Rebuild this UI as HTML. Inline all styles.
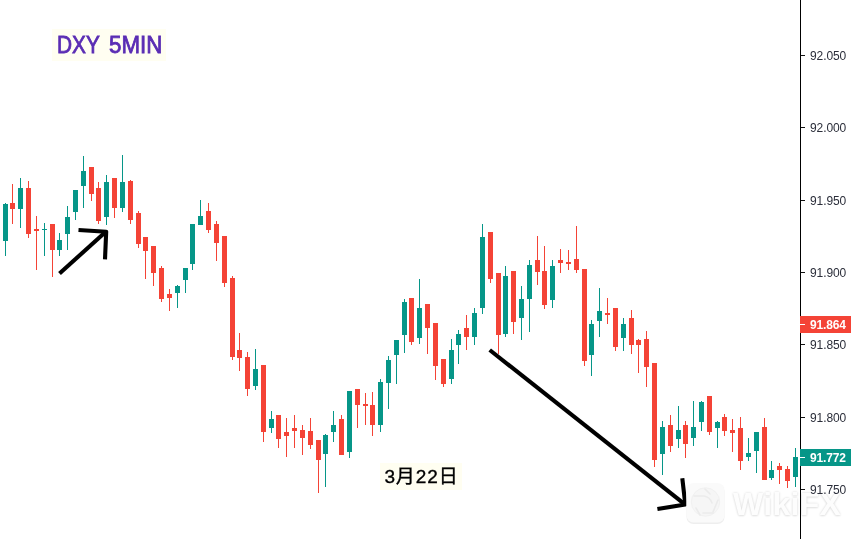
<!DOCTYPE html>
<html><head><meta charset="utf-8">
<title>DXY 5MIN</title>
<style>
html,body{margin:0;padding:0;background:#fff;}
body{width:851px;height:539px;position:relative;overflow:hidden;font-family:"Liberation Sans","Noto Sans CJK SC",sans-serif;}
svg{position:absolute;left:0;top:0;}
.title{position:absolute;left:52px;top:29px;width:114px;height:32px;background:#fffef1;color:#5a2db4;font-weight:normal;font-size:23px;line-height:32px;white-space:nowrap;-webkit-text-stroke:0.8px #5a2db4;}
.title span{position:absolute;top:0;display:block;transform-origin:0 50%;}
.title .a{left:5px;transform:scaleX(0.905);}
.title .b{left:56.9px;transform:scaleX(0.97);}
.date{position:absolute;left:380px;top:463px;width:82px;height:27px;background:#fffef1;color:#000;font-size:19px;line-height:27px;text-align:center;white-space:nowrap;letter-spacing:0.9px;-webkit-text-stroke:0.35px #000;text-indent:1px;}
.tk{position:absolute;left:810px;width:41px;height:16px;line-height:16px;font-size:12px;color:#2b2e3a;white-space:nowrap;letter-spacing:-0.1px;}
.pl{position:absolute;left:800px;width:51px;height:17px;line-height:17px;font-size:12px;font-weight:bold;color:#fff;white-space:nowrap;letter-spacing:-0.15px;}
.pl span{position:absolute;left:10px;top:0.5px;}
.pl i{position:absolute;left:0;top:8px;width:5px;height:1px;background:#fff;}
.axis{position:absolute;left:800px;top:0;width:1.25px;height:539px;background:#000;}
.wm{position:absolute;left:733px;top:486px;font-size:32px;font-weight:bold;color:#fdfdfd;letter-spacing:0.3px;text-shadow:0 0 2.5px #dadada,0 1px 2px #e8e8e8;white-space:nowrap;line-height:36px;}
</style></head><body>
<svg width="851" height="539" viewBox="0 0 851 539">
<g shape-rendering="crispEdges">
<rect x="5" y="203" width="1" height="53" fill="#069688"/>
<rect x="3" y="204" width="5" height="37" fill="#069688"/>
<rect x="12" y="184" width="1" height="40" fill="#f44336"/>
<rect x="10" y="203" width="5" height="6" fill="#f44336"/>
<rect x="20" y="178" width="1" height="50" fill="#069688"/>
<rect x="18" y="188" width="5" height="21" fill="#069688"/>
<rect x="28" y="181" width="1" height="57" fill="#f44336"/>
<rect x="26" y="188" width="5" height="46" fill="#f44336"/>
<rect x="36" y="216" width="1" height="54" fill="#f44336"/>
<rect x="34" y="229" width="5" height="2" fill="#f44336"/>
<rect x="44" y="223" width="1" height="33" fill="#069688"/>
<rect x="42" y="229" width="5" height="1" fill="#069688"/>
<rect x="52" y="224" width="1" height="53" fill="#f44336"/>
<rect x="50" y="224" width="5" height="26" fill="#f44336"/>
<rect x="59" y="233" width="1" height="23" fill="#069688"/>
<rect x="57" y="240" width="5" height="10" fill="#069688"/>
<rect x="67" y="206" width="1" height="44" fill="#069688"/>
<rect x="65" y="217" width="5" height="17" fill="#069688"/>
<rect x="75" y="190" width="1" height="30" fill="#069688"/>
<rect x="73" y="190" width="5" height="22" fill="#069688"/>
<rect x="83" y="156" width="1" height="52" fill="#069688"/>
<rect x="81" y="171" width="5" height="15" fill="#069688"/>
<rect x="91" y="167" width="1" height="34" fill="#f44336"/>
<rect x="89" y="167" width="5" height="27" fill="#f44336"/>
<rect x="98" y="182" width="1" height="42" fill="#f44336"/>
<rect x="96" y="188" width="5" height="33" fill="#f44336"/>
<rect x="106" y="175" width="1" height="50" fill="#069688"/>
<rect x="104" y="182" width="5" height="35" fill="#069688"/>
<rect x="114" y="178" width="1" height="40" fill="#f44336"/>
<rect x="112" y="178" width="5" height="30" fill="#f44336"/>
<rect x="122" y="155" width="1" height="57" fill="#069688"/>
<rect x="120" y="182" width="5" height="26" fill="#069688"/>
<rect x="130" y="180" width="1" height="44" fill="#f44336"/>
<rect x="128" y="181" width="5" height="39" fill="#f44336"/>
<rect x="138" y="211" width="1" height="37" fill="#f44336"/>
<rect x="136" y="213" width="5" height="31" fill="#f44336"/>
<rect x="145" y="237" width="1" height="42" fill="#f44336"/>
<rect x="143" y="237" width="5" height="14" fill="#f44336"/>
<rect x="153" y="246" width="1" height="40" fill="#f44336"/>
<rect x="151" y="246" width="5" height="27" fill="#f44336"/>
<rect x="161" y="266" width="1" height="36" fill="#f44336"/>
<rect x="159" y="268" width="5" height="31" fill="#f44336"/>
<rect x="169" y="289" width="1" height="22" fill="#f44336"/>
<rect x="167" y="294" width="5" height="4" fill="#f44336"/>
<rect x="177" y="285" width="1" height="23" fill="#069688"/>
<rect x="175" y="286" width="5" height="7" fill="#069688"/>
<rect x="185" y="268" width="1" height="25" fill="#069688"/>
<rect x="183" y="268" width="5" height="12" fill="#069688"/>
<rect x="192" y="224" width="1" height="46" fill="#069688"/>
<rect x="190" y="224" width="5" height="40" fill="#069688"/>
<rect x="200" y="200" width="1" height="25" fill="#069688"/>
<rect x="198" y="216" width="5" height="9" fill="#069688"/>
<rect x="208" y="203" width="1" height="30" fill="#f44336"/>
<rect x="206" y="211" width="5" height="19" fill="#f44336"/>
<rect x="216" y="221" width="1" height="40" fill="#f44336"/>
<rect x="214" y="224" width="5" height="19" fill="#f44336"/>
<rect x="224" y="236" width="1" height="51" fill="#f44336"/>
<rect x="222" y="236" width="5" height="47" fill="#f44336"/>
<rect x="232" y="276" width="1" height="84" fill="#f44336"/>
<rect x="230" y="278" width="5" height="79" fill="#f44336"/>
<rect x="239" y="333" width="1" height="38" fill="#f44336"/>
<rect x="237" y="350" width="5" height="8" fill="#f44336"/>
<rect x="247" y="352" width="1" height="44" fill="#f44336"/>
<rect x="245" y="357" width="5" height="32" fill="#f44336"/>
<rect x="255" y="349" width="1" height="41" fill="#069688"/>
<rect x="253" y="369" width="5" height="17" fill="#069688"/>
<rect x="263" y="365" width="1" height="77" fill="#f44336"/>
<rect x="261" y="365" width="5" height="67" fill="#f44336"/>
<rect x="271" y="411" width="1" height="22" fill="#069688"/>
<rect x="269" y="419" width="5" height="9" fill="#069688"/>
<rect x="278" y="415" width="1" height="33" fill="#f44336"/>
<rect x="276" y="415" width="5" height="24" fill="#f44336"/>
<rect x="286" y="418" width="1" height="39" fill="#f44336"/>
<rect x="284" y="432" width="5" height="4" fill="#f44336"/>
<rect x="294" y="415" width="1" height="33" fill="#f44336"/>
<rect x="292" y="428" width="5" height="3" fill="#f44336"/>
<rect x="302" y="425" width="1" height="30" fill="#f44336"/>
<rect x="300" y="430" width="5" height="8" fill="#f44336"/>
<rect x="310" y="418" width="1" height="31" fill="#f44336"/>
<rect x="308" y="431" width="5" height="14" fill="#f44336"/>
<rect x="318" y="440" width="1" height="53" fill="#f44336"/>
<rect x="316" y="440" width="5" height="20" fill="#f44336"/>
<rect x="325" y="434" width="1" height="53" fill="#069688"/>
<rect x="323" y="435" width="5" height="19" fill="#069688"/>
<rect x="333" y="411" width="1" height="31" fill="#069688"/>
<rect x="331" y="425" width="5" height="7" fill="#069688"/>
<rect x="341" y="415" width="1" height="40" fill="#f44336"/>
<rect x="339" y="419" width="5" height="36" fill="#f44336"/>
<rect x="349" y="391" width="1" height="67" fill="#069688"/>
<rect x="347" y="391" width="5" height="61" fill="#069688"/>
<rect x="357" y="389" width="1" height="39" fill="#f44336"/>
<rect x="355" y="389" width="5" height="16" fill="#f44336"/>
<rect x="365" y="393" width="1" height="32" fill="#f44336"/>
<rect x="363" y="404" width="5" height="2" fill="#f44336"/>
<rect x="372" y="392" width="1" height="44" fill="#f44336"/>
<rect x="370" y="405" width="5" height="20" fill="#f44336"/>
<rect x="380" y="379" width="1" height="53" fill="#069688"/>
<rect x="378" y="382" width="5" height="43" fill="#069688"/>
<rect x="388" y="356" width="1" height="53" fill="#069688"/>
<rect x="386" y="360" width="5" height="23" fill="#069688"/>
<rect x="396" y="340" width="1" height="44" fill="#069688"/>
<rect x="394" y="340" width="5" height="15" fill="#069688"/>
<rect x="404" y="299" width="1" height="54" fill="#069688"/>
<rect x="402" y="302" width="5" height="33" fill="#069688"/>
<rect x="411" y="298" width="1" height="47" fill="#f44336"/>
<rect x="409" y="298" width="5" height="44" fill="#f44336"/>
<rect x="419" y="279" width="1" height="65" fill="#069688"/>
<rect x="417" y="308" width="5" height="30" fill="#069688"/>
<rect x="427" y="304" width="1" height="50" fill="#f44336"/>
<rect x="425" y="304" width="5" height="24" fill="#f44336"/>
<rect x="435" y="323" width="1" height="57" fill="#f44336"/>
<rect x="433" y="323" width="5" height="43" fill="#f44336"/>
<rect x="443" y="359" width="1" height="28" fill="#f44336"/>
<rect x="441" y="359" width="5" height="25" fill="#f44336"/>
<rect x="451" y="339" width="1" height="45" fill="#069688"/>
<rect x="449" y="350" width="5" height="29" fill="#069688"/>
<rect x="458" y="330" width="1" height="34" fill="#069688"/>
<rect x="456" y="334" width="5" height="11" fill="#069688"/>
<rect x="466" y="315" width="1" height="35" fill="#f44336"/>
<rect x="464" y="328" width="5" height="9" fill="#f44336"/>
<rect x="474" y="308" width="1" height="37" fill="#069688"/>
<rect x="472" y="313" width="5" height="24" fill="#069688"/>
<rect x="482" y="224" width="1" height="90" fill="#069688"/>
<rect x="480" y="237" width="5" height="71" fill="#069688"/>
<rect x="490" y="232" width="1" height="51" fill="#f44336"/>
<rect x="488" y="232" width="5" height="47" fill="#f44336"/>
<rect x="498" y="273" width="1" height="81" fill="#f44336"/>
<rect x="496" y="273" width="5" height="62" fill="#f44336"/>
<rect x="505" y="266" width="1" height="71" fill="#069688"/>
<rect x="503" y="276" width="5" height="58" fill="#069688"/>
<rect x="513" y="271" width="1" height="63" fill="#f44336"/>
<rect x="511" y="271" width="5" height="51" fill="#f44336"/>
<rect x="521" y="286" width="1" height="54" fill="#069688"/>
<rect x="519" y="299" width="5" height="19" fill="#069688"/>
<rect x="529" y="260" width="1" height="72" fill="#069688"/>
<rect x="527" y="265" width="5" height="34" fill="#069688"/>
<rect x="537" y="236" width="1" height="49" fill="#f44336"/>
<rect x="535" y="260" width="5" height="12" fill="#f44336"/>
<rect x="544" y="246" width="1" height="63" fill="#f44336"/>
<rect x="542" y="271" width="5" height="34" fill="#f44336"/>
<rect x="552" y="260" width="1" height="48" fill="#069688"/>
<rect x="550" y="266" width="5" height="34" fill="#069688"/>
<rect x="560" y="249" width="1" height="24" fill="#f44336"/>
<rect x="558" y="260" width="5" height="3" fill="#f44336"/>
<rect x="568" y="250" width="1" height="20" fill="#f44336"/>
<rect x="566" y="262" width="5" height="2" fill="#f44336"/>
<rect x="576" y="226" width="1" height="47" fill="#f44336"/>
<rect x="574" y="259" width="5" height="11" fill="#f44336"/>
<rect x="584" y="269" width="1" height="97" fill="#f44336"/>
<rect x="582" y="269" width="5" height="92" fill="#f44336"/>
<rect x="591" y="320" width="1" height="56" fill="#069688"/>
<rect x="589" y="324" width="5" height="31" fill="#069688"/>
<rect x="599" y="288" width="1" height="49" fill="#069688"/>
<rect x="597" y="311" width="5" height="10" fill="#069688"/>
<rect x="607" y="298" width="1" height="26" fill="#f44336"/>
<rect x="605" y="313" width="5" height="2" fill="#f44336"/>
<rect x="615" y="308" width="1" height="43" fill="#f44336"/>
<rect x="613" y="308" width="5" height="39" fill="#f44336"/>
<rect x="623" y="318" width="1" height="33" fill="#069688"/>
<rect x="621" y="324" width="5" height="14" fill="#069688"/>
<rect x="631" y="310" width="1" height="44" fill="#f44336"/>
<rect x="629" y="318" width="5" height="27" fill="#f44336"/>
<rect x="638" y="339" width="1" height="34" fill="#f44336"/>
<rect x="636" y="340" width="5" height="5" fill="#f44336"/>
<rect x="646" y="331" width="1" height="56" fill="#f44336"/>
<rect x="644" y="339" width="5" height="28" fill="#f44336"/>
<rect x="654" y="363" width="1" height="104" fill="#f44336"/>
<rect x="652" y="363" width="5" height="97" fill="#f44336"/>
<rect x="662" y="421" width="1" height="54" fill="#069688"/>
<rect x="660" y="427" width="5" height="27" fill="#069688"/>
<rect x="670" y="415" width="1" height="37" fill="#f44336"/>
<rect x="668" y="425" width="5" height="21" fill="#f44336"/>
<rect x="678" y="406" width="1" height="42" fill="#069688"/>
<rect x="676" y="430" width="5" height="9" fill="#069688"/>
<rect x="685" y="421" width="1" height="37" fill="#f44336"/>
<rect x="683" y="425" width="5" height="19" fill="#f44336"/>
<rect x="693" y="401" width="1" height="45" fill="#069688"/>
<rect x="691" y="427" width="5" height="11" fill="#069688"/>
<rect x="701" y="401" width="1" height="30" fill="#069688"/>
<rect x="699" y="402" width="5" height="20" fill="#069688"/>
<rect x="709" y="396" width="1" height="39" fill="#f44336"/>
<rect x="707" y="396" width="5" height="36" fill="#f44336"/>
<rect x="717" y="421" width="1" height="27" fill="#069688"/>
<rect x="715" y="422" width="5" height="6" fill="#069688"/>
<rect x="724" y="414" width="1" height="22" fill="#f44336"/>
<rect x="722" y="417" width="5" height="14" fill="#f44336"/>
<rect x="732" y="419" width="1" height="33" fill="#f44336"/>
<rect x="730" y="430" width="5" height="3" fill="#f44336"/>
<rect x="740" y="417" width="1" height="53" fill="#f44336"/>
<rect x="738" y="428" width="5" height="33" fill="#f44336"/>
<rect x="748" y="438" width="1" height="23" fill="#069688"/>
<rect x="746" y="453" width="5" height="4" fill="#069688"/>
<rect x="756" y="432" width="1" height="41" fill="#069688"/>
<rect x="754" y="432" width="5" height="19" fill="#069688"/>
<rect x="764" y="418" width="1" height="62" fill="#f44336"/>
<rect x="762" y="427" width="5" height="53" fill="#f44336"/>
<rect x="771" y="461" width="1" height="19" fill="#069688"/>
<rect x="769" y="470" width="5" height="8" fill="#069688"/>
<rect x="779" y="463" width="1" height="21" fill="#f44336"/>
<rect x="777" y="466" width="5" height="4" fill="#f44336"/>
<rect x="787" y="466" width="1" height="22" fill="#f44336"/>
<rect x="785" y="469" width="5" height="12" fill="#f44336"/>
<rect x="795" y="448" width="1" height="39" fill="#069688"/>
<rect x="793" y="457" width="5" height="20" fill="#069688"/>
<rect x="801" y="55" width="4" height="1" fill="#111"/>
<rect x="801" y="127" width="4" height="1" fill="#111"/>
<rect x="801" y="200" width="4" height="1" fill="#111"/>
<rect x="801" y="272" width="4" height="1" fill="#111"/>
<rect x="801" y="344" width="4" height="1" fill="#111"/>
<rect x="801" y="417" width="4" height="1" fill="#111"/>
<rect x="801" y="489" width="4" height="1" fill="#111"/>

</g>

<g fill="none" stroke="#000" stroke-width="4.1" stroke-linecap="butt" stroke-linejoin="round">
<path d="M59.5 273.5 L105.5 232"/>
<path d="M78.5 230 L106.2 231.7 L105 259.3"/>
<path d="M489.7 350 L684.6 504.2"/>
<path d="M682.3 478.3 L685.3 504.6 L657.4 509"/>
</g>
<rect x="686.5" y="484" width="38" height="40" rx="7" fill="#eeeeee"/>
<rect x="686.5" y="483" width="38" height="39.5" rx="7" fill="#fafafa"/>
<circle cx="705.5" cy="502" r="14.2" fill="#f6f6f6" stroke="#f1f1f1" stroke-width="1"/>
<g fill="none" stroke="#ebebeb" stroke-width="1.6" stroke-linecap="round">
<path d="M694 496 L704 496 Q710 497 712 503"/>
<path d="M718 500 L713 512"/>
<path d="M703 513 L713 513"/>
<path d="M705 489 L710 494"/>
<path d="M696 508 L700 515"/>
</g>
</svg>
<div class="title"><span class="a">DXY</span> <span class="b">5MIN</span></div>
<div class="date">3月22日</div>
<div class="wm">WikiFX</div>
<div class="axis"></div>
<div class="tk" style="top:48.0px">92.050</div>
<div class="tk" style="top:120.0px">92.000</div>
<div class="tk" style="top:193.0px">91.950</div>
<div class="tk" style="top:265.0px">91.900</div>
<div class="tk" style="top:337.0px">91.850</div>
<div class="tk" style="top:410.0px">91.800</div>
<div class="tk" style="top:482.0px">91.750</div>

<div class="pl" style="top:316px;background:#f44336"><i></i><span>91.864</span></div>
<div class="pl" style="top:449px;background:#069688"><i></i><span>91.772</span></div>
</body></html>
